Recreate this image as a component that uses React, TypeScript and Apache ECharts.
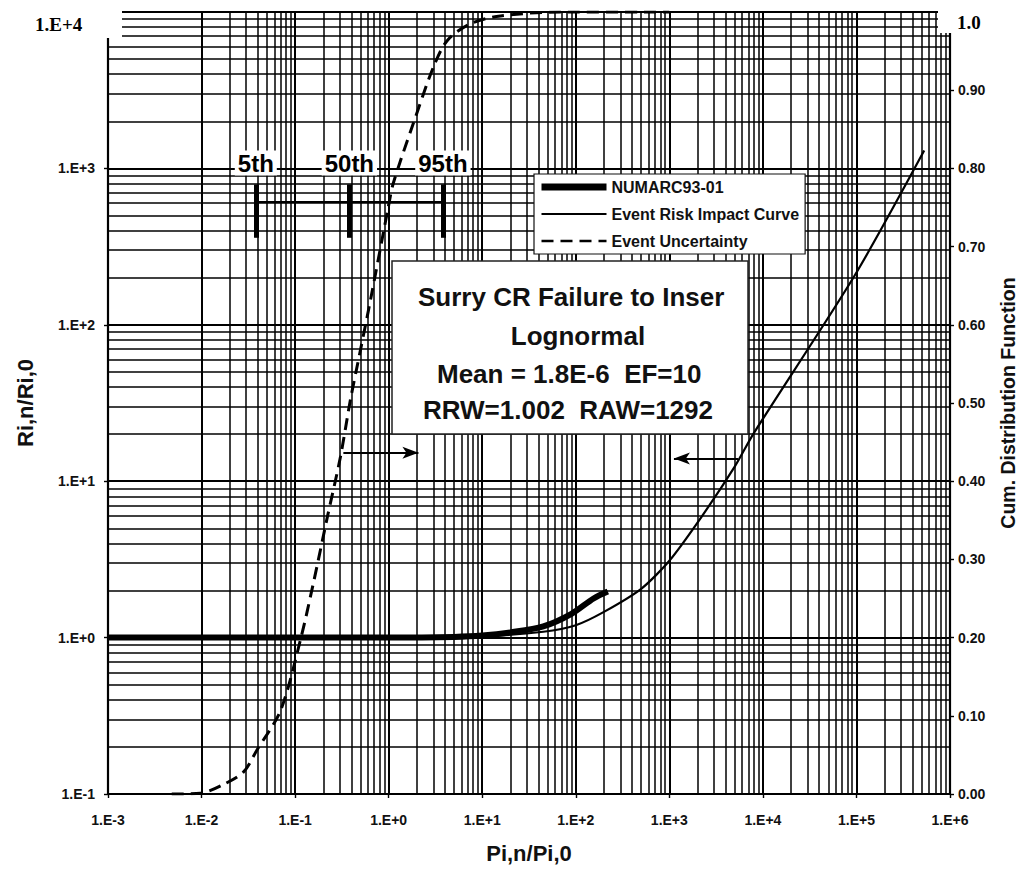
import React, { useEffect, useRef } from 'react';
import * as echarts from 'echarts';

// ---- axis ranges / grid
const xMin = 0.001;
const xMax = 1000000;
const yMin = 0.1;
const yMax = 10000;
const minorSteps = [1, 2, 3, 4, 5, 6, 7, 8, 9];

// ---- NUMARC93-01 (thick line)
const numarcX = [0.001, 1, 5, 10, 20, 45, 90, 155, 220];
const numarcY = [1, 1, 1.01, 1.03, 1.08, 1.18, 1.42, 1.78, 1.97];

// ---- Event Risk Impact Curve (thin line)
const riskX = [0.001, 1, 10, 45, 100, 200, 500, 1000, 2200, 5000, 8000, 95000, 530000];
const riskY = [1, 1, 1.02, 1.09, 1.2, 1.46, 2.05, 3.1, 5.9, 12.4, 20.3, 205, 1300];

// ---- Event Uncertainty (dashed, cumulative distribution, right axis)
const cdfX = [0.0048, 0.0097, 0.017, 0.028, 0.039, 0.07, 0.114, 0.157, 0.221, 0.305, 0.39, 0.5, 0.64, 1.0, 1.12, 1.84, 3.02, 4.26, 7.5, 15.7, 69, 1000];
const cdfY = [0, 0.001, 0.012, 0.028, 0.056, 0.107, 0.197, 0.27, 0.354, 0.431, 0.504, 0.568, 0.632, 0.753, 0.781, 0.858, 0.93, 0.964, 0.985, 0.995, 1.0, 1.0];

// ---- percentile markers
const pctNames = ['5th', '50th', '95th'];
const pctX = [0.038, 0.38, 3.8];
const pctBarLow = 360;
const pctBarHigh = 790;
const pctLineY = 614;
const pctLabelY = 1060;

// ---- arrows [from, to]
const arrowCdf = [[0.328, 15.2], [2.08, 15.2]];
const arrowRisk = [[5420, 13.95], [1120, 13.95]];

// ---- text box
const boxLines = ['Surry CR Failure to Inser', 'Lognormal', 'Mean = 1.8E-6  EF=10', 'RRW=1.002  RAW=1292'];

function decadesBetween(a: number, b: number): number[] {
  const out: number[] = [];
  const e0 = Math.round(Math.log10(a));
  const e1 = Math.round(Math.log10(b));
  for (let e = e0; e < e1; e++) {
    for (const s of minorSteps) out.push(s * Math.pow(10, e));
  }
  out.push(b);
  return out;
}

function expLabel(v: number): string {
  const e = Math.round(Math.log10(v));
  return '1.E' + (e >= 0 ? '+' : '-') + Math.abs(e);
}

const isDecade = (v: number) => Math.abs(Math.log10(v) - Math.round(Math.log10(v))) < 1e-6;

const FONT = '"Liberation Sans", Arial, sans-serif';
const SERIF = '"Liberation Serif", "Times New Roman", serif';
const INK = '#111';

export default function App() {
  const ref = useRef<HTMLDivElement>(null);
  useEffect(() => {
    if (!ref.current) return;
    const chart = echarts.init(ref.current, undefined, { renderer: 'svg' });

    const xGrid = decadesBetween(xMin, xMax).filter((v) => v > xMin * 1.0001 && v < xMax * 0.9999);
    const yGrid = decadesBetween(yMin, yMax).filter((v) => v > yMin * 1.0001);

    const gridLines = [
      ...xGrid.map((v) => ({ xAxis: v, lineStyle: { width: isDecade(v) ? 2 : 1.5 } })),
      ...yGrid.map((v) => ({ yAxis: v, lineStyle: { width: isDecade(v) ? 2 : 1.5 } })),
    ];

    const hideSymbol = { opacity: 0 };

    const option: any = {
      animation: false,
      backgroundColor: '#fff',
      grid: { left: 108, right: 77, top: 12, bottom: 77, show: false },
      xAxis: {
        type: 'log',
        min: xMin,
        max: xMax,
        splitNumber: 9,
        name: 'Pi,n/Pi,0',
        nameLocation: 'middle',
        nameGap: 48,
        nameTextStyle: { fontFamily: FONT, fontWeight: 'bold', fontSize: 22, color: INK },
        axisLine: { show: true, lineStyle: { color: '#000', width: 2.2 } },
        axisTick: { show: true, length: 4, lineStyle: { color: '#000', width: 1.4 } },
        minorTick: { show: false },
        splitLine: { show: false },
        axisLabel: {
          margin: 19,
          fontFamily: FONT,
          fontWeight: 'bold',
          fontSize: 14,
          color: INK,
          formatter: (v: number) => expLabel(v),
        },
      },
      yAxis: [
        {
          type: 'log',
          min: yMin,
          max: yMax,
          splitNumber: 5,
          name: 'Ri,n/Ri,0',
          nameLocation: 'middle',
          nameGap: 72,
          nameTextStyle: { fontFamily: FONT, fontWeight: 'bold', fontSize: 22, color: INK },
          axisLine: { show: true, lineStyle: { color: '#000', width: 2.2 } },
          axisTick: { show: true, length: 4, lineStyle: { color: '#000', width: 1.4 } },
          splitLine: { show: false },
          axisLabel: {
            margin: 13,
            fontFamily: FONT,
            fontWeight: 'bold',
            fontSize: 14,
            color: INK,
            formatter: (v: number) => (Math.round(Math.log10(v)) === 4 ? '' : expLabel(v)),
          },
        },
        {
          type: 'value',
          position: 'right',
          min: 0,
          max: 1,
          interval: 0.1,
          name: 'Cum. Distribution Function',
          nameLocation: 'middle',
          nameGap: 48,
          nameRotate: 90,
          nameTextStyle: { fontFamily: FONT, fontWeight: 'bold', fontSize: 19.5, color: INK },
          axisLine: { show: true, lineStyle: { color: '#000', width: 2.2 } },
          axisTick: { show: true, length: 4, lineStyle: { color: '#000', width: 1.4 } },
          splitLine: { show: false },
          axisLabel: {
            margin: 8,
            fontFamily: FONT,
            fontWeight: 'bold',
            fontSize: 14,
            color: INK,
            formatter: (v: number) => (v > 0.999 ? '' : v.toFixed(2)),
          },
        },
      ],
      legend: {
        orient: 'vertical',
        left: 534,
        top: 174,
        padding: [5, 6, 5, 4],
        itemGap: 11,
        itemWidth: 65,
        itemHeight: 14,
        backgroundColor: '#fff',
        borderColor: INK,
        borderWidth: 1.2,
        borderRadius: 0,
        z: 20,
        textStyle: { fontFamily: FONT, fontWeight: 'bold', fontSize: 16, color: INK },
        data: [
          { name: 'NUMARC93-01', lineStyle: { width: 7 }, itemStyle: hideSymbol },
          { name: 'Event Risk Impact Curve', lineStyle: { width: 2 }, itemStyle: hideSymbol },
          { name: 'Event Uncertainty', lineStyle: { width: 2.5 }, itemStyle: hideSymbol },
        ],
      },
      series: [
        {
          name: 'grid',
          type: 'line',
          z: 1,
          data: [[1, 1]],
          symbol: 'none',
          lineStyle: { opacity: 0 },
          silent: true,
          markLine: {
            silent: true,
            symbol: ['none', 'none'],
            label: { show: false },
            lineStyle: { color: '#000', type: 'solid', width: 1.5 },
            emphasis: { disabled: true },
            data: gridLines,
          },
        },
        {
          name: 'NUMARC93-01',
          type: 'line',
          z: 5,
          smooth: 0.3,
          symbol: 'none',
          lineStyle: { color: '#000', width: 6 },
          itemStyle: { color: '#000' },
          data: numarcX.map((x, i) => [x, numarcY[i]]),
        },
        {
          name: 'Event Risk Impact Curve',
          type: 'line',
          z: 4,
          smooth: 0.25,
          symbol: 'none',
          lineStyle: { color: '#000', width: 2.2 },
          itemStyle: { color: '#000' },
          data: riskX.map((x, i) => [x, riskY[i]]),
          markLine: {
            silent: true,
            symbol: ['none', 'arrow'],
            symbolSize: [9, 16],
            label: { show: false },
            lineStyle: { color: '#000', type: 'solid', width: 2 },
            data: [[{ coord: arrowRisk[0] }, { coord: arrowRisk[1] }]],
          },
        },
        {
          name: 'Event Uncertainty',
          type: 'line',
          yAxisIndex: 1,
          z: 4,
          smooth: 0.3,
          symbol: 'none',
          lineStyle: { color: '#000', width: 3, type: [12, 7] },
          itemStyle: { color: '#000' },
          data: cdfX.map((x, i) => [x, cdfY[i]]),
        },
        {
          name: 'arrowCdf',
          type: 'line',
          z: 4,
          data: [],
          symbol: 'none',
          markLine: {
            silent: true,
            symbol: ['none', 'arrow'],
            symbolSize: [9, 16],
            label: { show: false },
            lineStyle: { color: '#000', type: 'solid', width: 2 },
            data: [[{ coord: arrowCdf[0] }, { coord: arrowCdf[1] }]],
          },
        },
        {
          name: 'percentiles',
          type: 'line',
          z: 6,
          data: [],
          symbol: 'none',
          markLine: {
            silent: true,
            symbol: ['none', 'none'],
            label: { show: false },
            data: [
              [
                { coord: [pctX[0], pctLineY], lineStyle: { width: 2, color: '#000', type: 'solid' } },
                { coord: [pctX[2], pctLineY] },
              ],
              ...pctX.map((x) => [
                { coord: [x, pctBarLow], lineStyle: { width: 5, color: '#000', type: 'solid' } },
                { coord: [x, pctBarHigh] },
              ]),
            ],
          },
        },
        {
          name: 'pctLabels',
          type: 'scatter',
          z: 7,
          symbolSize: 2,
          itemStyle: { color: 'rgba(255,255,255,0)' },
          silent: true,
          label: {
            show: true,
            position: 'top',
            distance: -12,
            formatter: (p: any) => p.name,
            fontFamily: FONT,
            fontWeight: 'bold',
            fontSize: 24,
            color: '#000',
            opacity: 1,
            textBorderWidth: 0,
            textBorderColor: 'transparent',
            backgroundColor: '#fff',
            padding: [1, 3, 0, 3],
          },
          emphasis: { disabled: true },
          data: pctNames.map((n, i) => ({ name: n, value: [pctX[i], pctLabelY] })),
        },
      ],
      graphic: [
        { type: 'rect', z: 50, shape: { x: 0, y: 0, width: 122, height: 38 }, style: { fill: '#fff' } },
        { type: 'rect', z: 50, shape: { x: 938, y: 0, width: 89, height: 33 }, style: { fill: '#fff' } },
        {
          type: 'text',
          z: 51,
          x: 35,
          y: 24,
          style: { text: '1.E+4', font: `bold 19px ${SERIF}`, fill: '#000', verticalAlign: 'middle', align: 'left' },
        },
        {
          type: 'text',
          z: 51,
          x: 957,
          y: 22,
          style: { text: '1.0', font: `bold 19px ${SERIF}`, fill: '#000', verticalAlign: 'middle', align: 'left' },
        },
        {
          type: 'group',
          z: 40,
          children: [
            {
              type: 'rect',
              z: 40,
              shape: { x: 392, y: 261, width: 356, height: 173 },
              style: { fill: '#fff', stroke: '#222', lineWidth: 1.5 },
            },
            {
              type: 'text', z: 41, x: 418, y: 297,
              style: { text: boxLines[0], font: `bold 26px ${FONT}`, fill: INK, align: 'left', verticalAlign: 'middle' },
            },
            {
              type: 'text', z: 41, x: 578, y: 336,
              style: { text: boxLines[1], font: `bold 26px ${FONT}`, fill: INK, align: 'center', verticalAlign: 'middle' },
            },
            {
              type: 'text', z: 41, x: 437, y: 374,
              style: { text: boxLines[2], font: `bold 26px ${FONT}`, fill: INK, align: 'left', verticalAlign: 'middle' },
            },
            {
              type: 'text', z: 41, x: 423, y: 410,
              style: { text: boxLines[3], font: `bold 26px ${FONT}`, fill: INK, align: 'left', verticalAlign: 'middle' },
            },
          ],
        },
      ],
    };

    chart.setOption(option);
    return () => chart.dispose();
  }, []);

  return (
    <div
      ref={ref}
      style={{ position: 'fixed', left: 0, top: 0, width: 1027, height: 871, background: '#fff' }}
    />
  );
}
